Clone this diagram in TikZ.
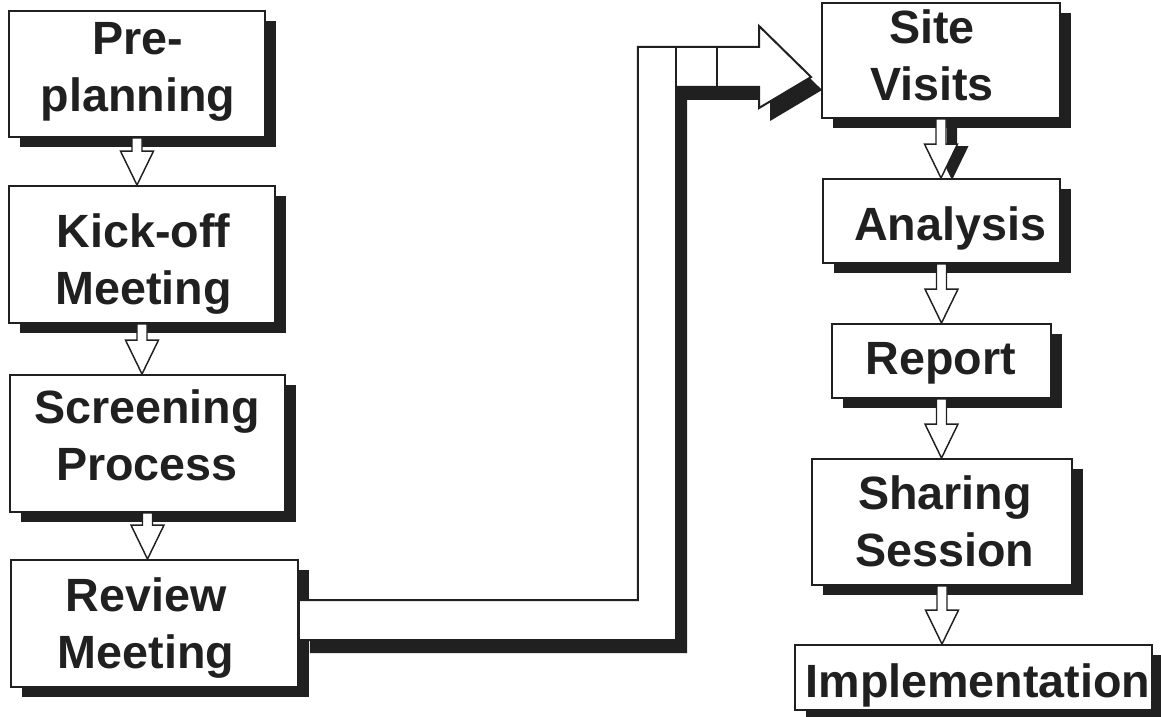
\documentclass[tikz,border=0pt]{standalone}
\usepackage{fontspec}
\setmainfont{Liberation Sans}
\usetikzlibrary{calc,shadows}

\definecolor{ink}{RGB}{32,32,32}

\tikzset{every picture/.style={line width=0.75pt}}

\tikzset{
  flowbox/.style={draw=ink, line width=1.4pt, fill=white, rectangle, inner sep=0pt,
    drop shadow={shadow xshift=8.25pt, shadow yshift=-7.5pt, fill=ink, opacity=1}},
  flowtext/.style={anchor=center, font=\bfseries\fontsize{35}{42.5}\selectfont, align=center, text=ink},
  flowarrow/.style={draw=ink, line width=1.1pt, fill=white,
    to path={($(\tikztostart)+(-5,0)$) -- ($(\tikztostart |- \tikztotarget)+(-5,-34)$) -- ++(-11.5,0)
      -- (\tikztostart |- \tikztotarget) -- ++(16.5,-34) -- ++(-11.5,0) -- ($(\tikztostart)+(5,0)$) -- cycle}},
  pipe/.style={draw=ink, line width=1.5pt, fill=white,
    drop shadow={shadow xshift=8.25pt, shadow yshift=-9.75pt, fill=ink, opacity=1}}
}

\begin{document}
\begin{tikzpicture}[x=0.75pt,y=0.75pt,yscale=-1,xscale=1]
\useasboundingbox (0,0) rectangle (1161,717);

%% ---------------- left column ----------------
\node [flowbox, minimum width=192pt, minimum height=94.5pt] (preplan) at (137,74) {};
\node [flowbox, minimum width=199.5pt, minimum height=102.75pt] (kickoff) at (142,254.5) {};
\node [flowbox, minimum width=206.25pt, minimum height=102.75pt] (screen) at (147.5,443.5) {};
\node [flowbox, minimum width=215.25pt, minimum height=95.25pt] (review) at (154.5,623.5) {};

\draw [flowarrow] (preplan.south) to (kickoff.north);
\draw [flowarrow] (kickoff.south) to (screen.north);
\draw [flowarrow] (screen.south) to (review.north);

%% ---------------- right column ----------------
\node [flowbox, minimum width=178.5pt, minimum height=86.25pt] (site) at (941,60.5) {};
\node [flowbox, minimum width=177.75pt, minimum height=63pt] (analysis) at (941.5,221) {};
\node [flowbox, minimum width=164.25pt, minimum height=55.5pt] (report) at (941.5,361) {};
\node [flowbox, minimum width=195pt, minimum height=94.5pt] (sharing) at (942,522) {};
\node [flowbox, minimum width=267.75pt, minimum height=48.75pt] (impl) at (973.5,677.5) {};

\draw [flowarrow, drop shadow={shadow xshift=8.25pt, shadow yshift=-1.5pt, fill=ink, opacity=1}] (site.south) to (analysis.north);
\draw [flowarrow] (analysis.south) to (report.north);
\draw [flowarrow] (report.south) to (sharing.north);
\draw [flowarrow] (sharing.south) to (impl.north);

%% ---------------- big connector ----------------
\coordinate (pipein) at ($(review.east)+(0,-23.5)$);
\coordinate (tip) at ($(site.west)+(-10,16.5)$);
\draw [pipe] (pipein) -- ++(339,0) |- ($(tip)+(-52,-30)$) -- ++(0,-21) -- (tip) -- ++(-52,31) -- ++(0,-21) -- ++(-83,0) |- ($(pipein)+(0,40)$) -- cycle;
\draw [draw=ink, line width=1.5pt] ($(tip)+(-135,-30)$) -- ++(0,40);
\draw [draw=ink, line width=1.5pt] ($(tip)+(-94,-30)$) -- ++(0,40);

%% ---------------- text ----------------
\node [flowtext] (preplan-t) at (138,72) {Pre-\\planning};
\node [flowtext] (kickoff-t) at (143.5,264) {Kick-off\\Meeting};
\node [flowtext] (screen-t) at (147,435) {Screening\\Process};
\node [flowtext] (review-t) at (146,628) {Review\\Meeting};
\node [flowtext] (site-t) at (932,55) {Site\\Visits};
\node [flowtext] (analysis-t) at (950,228) {Analysis};
\node [flowtext] (report-t) at (941,363) {Report};
\node [flowtext] (sharing-t) at (945,521) {Sharing\\Session};
\node [flowtext] (impl-t) at (978,685) {Implementation};

\end{tikzpicture}
\end{document}
